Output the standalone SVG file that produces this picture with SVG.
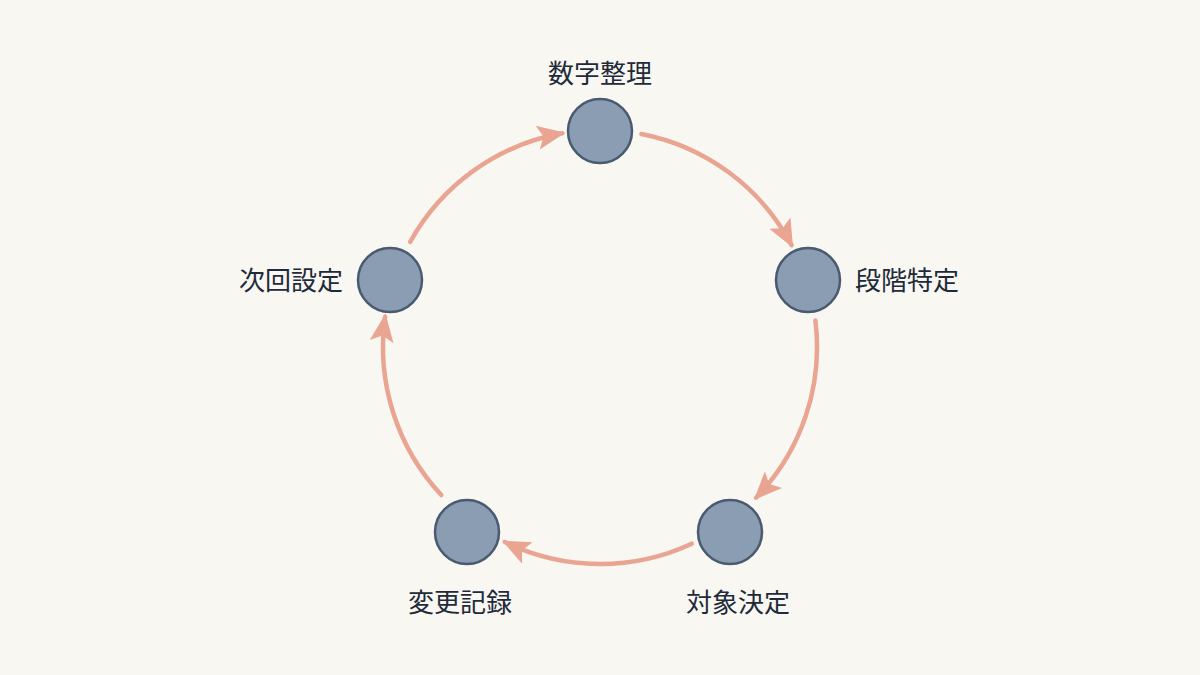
<svg xmlns="http://www.w3.org/2000/svg" width="1200" height="675" viewBox="0 0 1200 675">
<style>
.n{fill:#8a9db3;stroke:#4a5a70;stroke-width:2.5}
.t{font-family:"Noto Sans CJK JP","Noto Sans",sans-serif;font-size:26px;fill:#1f2a3a;dominant-baseline:central}
.e{fill:none;stroke:#e9a592;stroke-width:4.5;stroke-linecap:round;marker-end:url(#a)}
</style>
<defs><marker id="a" markerUnits="userSpaceOnUse" markerWidth="30" markerHeight="30" viewBox="0 0 30 30" refX="25" refY="15" orient="auto"><path d="M0,3 L28,15 L0,27 L6,15 Z" fill="#e9a592"/></marker></defs>
<rect width="1200" height="675" fill="#f8f7f1"/>
<g id="connectors">
<path class="e" d="M641.4,134 A217,217 0 0 1 791.6,245.1"/>
<path class="e" d="M815.4,320.5 A217,217 0 0 1 756.1,497.7"/>
<path class="e" d="M691.7,543.7 A217,217 0 0 1 504.9,542"/>
<path class="e" d="M441.3,495 A217,217 0 0 1 385.1,316.8"/>
<path class="e" d="M410.2,241.8 A217,217 0 0 1 562.3,133.3"/>
</g>
<g id="n1"><circle class="n" cx="600" cy="131" r="32"/><text class="t" x="600" y="71" text-anchor="middle">数字整理</text></g>
<g id="n2"><circle class="n" cx="808" cy="280" r="32"/><text class="t" x="855" y="278">段階特定</text></g>
<g id="n3"><circle class="n" cx="730" cy="532" r="32"/><text class="t" x="738" y="600" text-anchor="middle">対象決定</text></g>
<g id="n4"><circle class="n" cx="467" cy="532" r="32"/><text class="t" x="460" y="600" text-anchor="middle">変更記録</text></g>
<g id="n5"><circle class="n" cx="390" cy="280" r="32"/><text class="t" x="343" y="278" text-anchor="end">次回設定</text></g>
</svg>
